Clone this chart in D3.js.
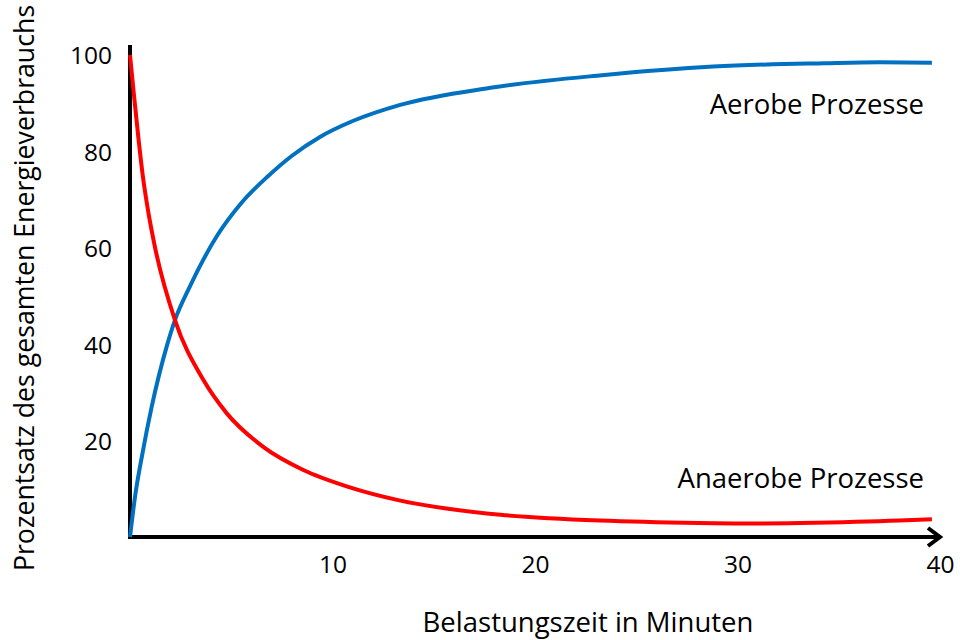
<!DOCTYPE html>
<html>
<head>
<meta charset="utf-8">
<script src="https://cdn.jsdelivr.net/npm/d3@7"></script>
<style>
    body { margin: 0; background: #fff; }
    text { font-family: 'Open Sans', 'Noto Sans', sans-serif; fill: #000; }
</style>
</head>
<body>
<div id="container"></div>
<script>
//Data (minutes, percent)
const aerobTime = [0, 0.25, 0.6, 1.07, 1.81, 2.22, 2.96, 4.3, 5.5, 6.8, 8, 9.38, 11, 13.3, 17.8, 23.3, 28.8, 34.3, 37, 39.6];
const aerobValues = [0, 8.4, 17, 27, 39.5, 45, 52, 62.5, 69.3, 74.8, 79.1, 83, 86.3, 89.6, 93.2, 95.8, 97.6, 98.3, 98.5, 98.4];

const anaerobTime = [0, 0.2, 0.41, 0.63, 0.9, 1.23, 2.22, 3.62, 4.77, 6.58, 8.56, 10.78, 13.3, 15.8, 18.3, 20.7, 23.2, 28.1, 30.6, 33.1, 38, 39.6];
const anaerobValues = [100, 91.5, 83, 75, 67.5, 60.2, 45, 32.6, 25.7, 18.7, 13.9, 10.4, 7.6, 5.8, 4.6, 3.9, 3.4, 2.9, 2.8, 2.9, 3.4, 3.7];

const xTicks = [10, 20, 30, 40];
const yTicks = [20, 40, 60, 80, 100];

const seriesNames = ['Aerobe Prozesse', 'Anaerobe Prozesse'];
const seriesColors = ['#0070C0', '#FF0000'];

//SVG size
const width = 960;
const height = 640;

const svg = d3.select('#container').append('svg')
    .attr('width', width)
    .attr('height', height);

//Scales
const xScale = d3.scaleLinear()
    .domain([0, 40])
    .range([130, 940]);

const yScale = d3.scaleLinear()
    .domain([0, 100])
    .range([537, 55]);

//Y-Axis labels (no ticks, no domain)
const yAxis = svg.append('g')
    .attr('transform', 'translate(' + xScale(0) + ',0)')
    .call(d3.axisLeft(yScale).tickValues(yTicks).tickSize(0).tickPadding(18));
yAxis.select('.domain').remove();
yAxis.selectAll('text')
    .attr('dy', '0.36em')
    .style('font-size', '24.5px')
    .style('font-family', "'Open Sans', sans-serif");

//X-Axis labels
const xAxis = svg.append('g')
    .attr('transform', 'translate(0,' + yScale(0) + ')')
    .call(d3.axisBottom(xScale).tickValues(xTicks).tickSize(0).tickPadding(19));
xAxis.select('.domain').remove();
xAxis.selectAll('text')
    .style('font-size', '24.5px')
    .style('font-family', "'Open Sans', sans-serif");

//Axis lines
svg.append('line')
    .attr('x1', xScale(0)).attr('x2', xScale(0))
    .attr('y1', yScale(0) + 2).attr('y2', 45)
    .attr('stroke', '#000').attr('stroke-width', 4);

svg.append('line')
    .attr('x1', xScale(0) - 2).attr('x2', xScale(40) - 2)
    .attr('y1', yScale(0)).attr('y2', yScale(0))
    .attr('stroke', '#000').attr('stroke-width', 4);

//Arrow head on x-axis
svg.append('path')
    .attr('d', 'M' + (xScale(40) - 12) + ',' + (yScale(0) - 9) +
        'L' + xScale(40) + ',' + yScale(0) +
        'L' + (xScale(40) - 12) + ',' + (yScale(0) + 9))
    .attr('fill', 'none')
    .attr('stroke', '#000')
    .attr('stroke-width', 4)
    .attr('stroke-linejoin', 'miter');

//Lines
const line = d3.line()
    .x(d => xScale(d[0]))
    .y(d => yScale(d[1]))
    .curve(d3.curveMonotoneX);

const series = [
    d3.zip(aerobTime, aerobValues),
    d3.zip(anaerobTime, anaerobValues)
];

svg.selectAll('path.series')
    .data(series)
    .enter()
    .append('path')
    .attr('class', 'series')
    .attr('d', line)
    .attr('fill', 'none')
    .attr('stroke', (d, i) => seriesColors[i])
    .attr('stroke-width', 4);

//Series labels
svg.append('text')
    .attr('x', 924)
    .attr('y', 114)
    .attr('text-anchor', 'end')
    .style('font-size', '27.5px')
    .text(seriesNames[0]);

svg.append('text')
    .attr('x', 924)
    .attr('y', 488)
    .attr('text-anchor', 'end')
    .style('font-size', '27.5px')
    .text(seriesNames[1]);

//Axis titles
svg.append('text')
    .attr('transform', 'rotate(-90)')
    .attr('x', -288)
    .attr('y', 34)
    .attr('text-anchor', 'middle')
    .style('font-size', '26.7px')
    .text('Prozentsatz des gesamten Energieverbrauchs');

svg.append('text')
    .attr('x', 588)
    .attr('y', 632)
    .attr('text-anchor', 'middle')
    .style('font-size', '27.5px')
    .text('Belastungszeit in Minuten');
</script>
</body>
</html>
